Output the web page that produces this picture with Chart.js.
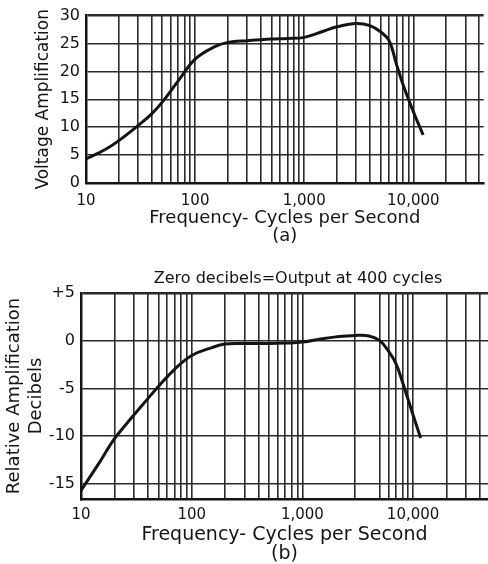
<!DOCTYPE html>
<html>
<head>
<meta charset="utf-8">
<script src="https://cdn.jsdelivr.net/npm/chart.js@4"></script>
<style>
body { margin: 0; background: #fff; width: 488px; height: 564px; overflow: hidden; position: relative; }
canvas { position: absolute; left: 0; }
#chartA { top: 0; }
#chartB { top: 250px; }
</style>
</head>
<body>
<canvas id="chartA" width="488" height="250"></canvas>
<canvas id="chartB" width="488" height="314"></canvas>
<script>
// (a) voltage amplification
var freqA = [10, 15, 20, 30, 40, 50, 70, 100, 150, 200, 300, 500, 700, 1000, 1500, 2000, 3000, 4000, 5000, 6000, 7000, 8000, 10000, 12300];
var gainA = [4.3, 6.0, 7.6, 10.3, 12.4, 14.5, 18.3, 22.2, 24.4, 25.2, 25.5, 25.8, 25.9, 26.1, 27.2, 28.0, 28.6, 28.2, 27.1, 25.5, 21.3, 17.8, 12.8, 8.6];

// (b) relative amplification, decibels
var freqB = [10, 15, 20, 30, 40, 50, 70, 100, 150, 200, 300, 500, 700, 1000, 1500, 2000, 3000, 4000, 5000, 6000, 7000, 8000, 10000, 11700];
var dbB = [-15.7, -12.6, -10.3, -7.8, -6.1, -4.8, -3.0, -1.55, -0.75, -0.35, -0.3, -0.3, -0.25, -0.15, 0.2, 0.4, 0.55, 0.5, 0.0, -1.1, -2.4, -4.3, -7.8, -10.2];

// grid / tick values
var gridFreqsA = [10, 20, 30, 40, 50, 60, 70, 80, 90, 100, 200, 300, 400, 500, 600, 700, 800, 900, 1000, 2000, 3000, 4000, 5000, 6000, 7000, 8000, 9000, 10000, 20000, 30000, 40000];
var gridFreqsB = [10, 20, 30, 40, 50, 60, 70, 80, 90, 100, 200, 300, 400, 500, 600, 700, 800, 900, 1000, 3000, 5000, 6000, 7000, 8000, 9000, 10000, 20000, 30000, 40000];
var xTickValues = [10, 100, 1000, 10000];
var xTickLabels = ['10', '100', '1,000', '10,000'];
var yTicksA = [0, 5, 10, 15, 20, 25, 30];
var yTicksB = [5, 0, -5, -10, -15];
var yTickLabelsB = ['+5', '0', '-5', '-10', '-15'];

var ink = '#141414';
var fontName = '"DejaVu Sans"';

function xLabel(v) {
  var i = xTickValues.indexOf(v);
  return i >= 0 ? xTickLabels[i] : '';
}

function toPoints(xs, ys) {
  return xs.map(function (x, i) { return { x: x, y: ys[i] }; });
}

var notePlugin = {
  id: 'note',
  afterDraw: function (chart, args, opts) {
    if (!opts.text) return;
    var ctx = chart.ctx;
    ctx.save();
    ctx.font = opts.size + 'px ' + fontName;
    ctx.fillStyle = ink;
    ctx.textAlign = 'center';
    ctx.textBaseline = 'middle';
    ctx.fillText(opts.text, opts.x, opts.y);
    ctx.restore();
  }
};

Chart.defaults.font.family = fontName;
Chart.defaults.color = ink;

// chart (a)
new Chart(document.getElementById('chartA'), {
  type: 'line',
  data: {
    datasets: [{
      data: toPoints(freqA, gainA),
      borderColor: ink,
      borderWidth: 3,
      pointRadius: 0,
      tension: 0.4,
      fill: false
    }]
  },
  options: {
    responsive: false,
    animation: false,
    layout: { padding: { top: 14, right: 0, left: 0, bottom: 0 } },
    plugins: { legend: { display: false }, tooltip: { enabled: false } },
    scales: {
      x: {
        type: 'logarithmic',
        min: 10,
        max: 44150,
        afterBuildTicks: function (s) { s.ticks = gridFreqsA.map(function (v) { return { value: v }; }); },
        afterFit: function (s) { s.height = 67; },
        ticks: { autoSkip: false, maxRotation: 0, minRotation: 0, padding: 9, font: { size: 15 }, callback: function (v) { return xLabel(v); } },
        grid: { color: '#2a2a2a', lineWidth: 1.6, drawTicks: false },
        border: { color: ink, width: 2.5 },
        title: { display: true, text: ['Frequency- Cycles per Second', '(a)'], font: { size: 18, lineHeight: 1.0 }, padding: { top: 0, bottom: 5 } }
      },
      y: {
        min: 0,
        max: 30,
        afterBuildTicks: function (s) { s.ticks = yTicksA.map(function (v) { return { value: v }; }); },
        afterFit: function (s) { s.width = 86; },
        ticks: { padding: 6, font: { size: 16 } },
        grid: { color: '#2a2a2a', drawTicks: false, lineWidth: function (c) { return c.tick && c.tick.value === 30 ? 2.5 : 1.6; } },
        border: { color: ink, width: 2.5 },
        title: { display: true, text: 'Voltage Amplification', font: { size: 17 }, padding: { top: 33, bottom: 0 } }
      }
    }
  }
});

// chart (b)
new Chart(document.getElementById('chartB'), {
  type: 'line',
  data: {
    datasets: [{
      data: toPoints(freqB, dbB),
      borderColor: ink,
      borderWidth: 3,
      pointRadius: 0,
      tension: 0.4,
      fill: false
    }]
  },
  plugins: [notePlugin],
  options: {
    responsive: false,
    animation: false,
    layout: { padding: { top: 43, right: 0, left: 0, bottom: 0 } },
    plugins: {
      legend: { display: false },
      tooltip: { enabled: false },
      note: { text: 'Zero decibels=Output at 400 cycles', x: 298, y: 29, size: 16 }
    },
    scales: {
      x: {
        type: 'logarithmic',
        min: 10,
        max: 47500,
        afterBuildTicks: function (s) { s.ticks = gridFreqsB.map(function (v) { return { value: v }; }); },
        afterFit: function (s) { s.height = 65; },
        ticks: { autoSkip: false, maxRotation: 0, minRotation: 0, padding: 7, font: { size: 15 }, callback: function (v) { return xLabel(v); } },
        grid: { color: '#2a2a2a', lineWidth: 1.6, drawTicks: false },
        border: { color: ink, width: 2.5 },
        title: { display: true, text: ['Frequency- Cycles per Second', '(b)'], font: { size: 19, lineHeight: 1.0 }, padding: { top: 0, bottom: 0 } }
      },
      y: {
        min: -16.6,
        max: 5,
        afterBuildTicks: function (s) { s.ticks = yTicksB.map(function (v) { return { value: v }; }); },
        afterFit: function (s) { s.width = 81; },
        ticks: { padding: 6, font: { size: 16 }, callback: function (v) { return yTickLabelsB[yTicksB.indexOf(v)]; } },
        grid: { color: '#2a2a2a', drawTicks: false, lineWidth: function (c) { return c.tick && c.tick.value === 5 ? 2.5 : 1.6; } },
        border: { color: ink, width: 2.5 },
        title: { display: true, text: ['Relative Amplification', 'Decibels'], font: { size: 18, lineHeight: 1.25 }, padding: { top: 3, bottom: 0 } }
      }
    }
  }
});
</script>
</body>
</html>
